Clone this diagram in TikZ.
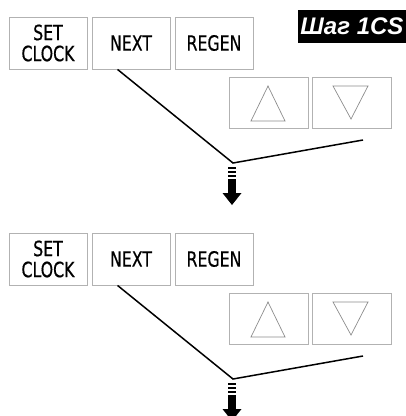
\documentclass[tikz,border=0pt]{standalone}
\usepackage{fontspec}
\newfontfamily\tastenfont[FakeStretch=0.75,FakeBold=0.6]{DejaVu Sans}
\newfontfamily\schrittfont{Liberation Sans}
\tikzset{
  taste/.style={draw=black!30, line width=0.9pt, minimum width=78pt, minimum height=52pt,
    inner sep=0pt, align=center, font=\tastenfont\fontsize{21}{21}\selectfont},
  pfeiltaste/.style={draw=black!30, line width=0.9pt, minimum width=79pt, minimum height=51pt, inner sep=0pt},
  zeiger/.style={line width=1.5pt, black}
}
\begin{document}
\begin{tikzpicture}[x=1pt,y=-1pt]
            % Rahmen
            \useasboundingbox (0,0) rectangle (406,416);
            % Schritt:
            \node[fill=black, text=white, minimum width=108pt, minimum height=33pt, inner sep=0pt,
              font=\schrittfont\bfseries\itshape\fontsize{24}{26}\selectfont] (schritt) at (352,26.5) {Шаг 1CS};
            \foreach \i/\dy in {1/0,2/216} {
              \begin{scope}[yshift=-\dy pt]
                % Tasten:
                \node[taste] (set\i) at (48,43) {SET\\CLOCK};
                \node[taste] (next\i) at (131,43) {NEXT};
                \node[taste] (regen\i) at (214,43) {REGEN};
                \node[pfeiltaste] (auf\i) at (268.5,102.5) {};
                \node[pfeiltaste] (ab\i) at (351.5,102.5) {};
                % Dreiecke:
                \draw[black!45, line width=0.7pt] (268,86) -- (251,121) -- (285,121) -- cycle;
                \draw[black!45, line width=0.7pt] (333,86) -- (368,86) -- (351,119) -- cycle;
                % Zeiger:
                \coordinate (knick\i) at (233,163);
                \coordinate (ende\i) at (363,140);
                \draw[zeiger] (next\i.south west) ++(26,0) -- (knick\i) -- (ende\i);
                % Pfeil:
                \foreach \s in {167,171,175}
                  \fill (228,\s) rectangle (236,\s+2.2);
                \fill (228,179) rectangle (236,194);
                \fill (222.5,193) -- (241.5,193) -- (232,205) -- cycle;
              \end{scope}
            }
        \end{tikzpicture}
\end{document}
